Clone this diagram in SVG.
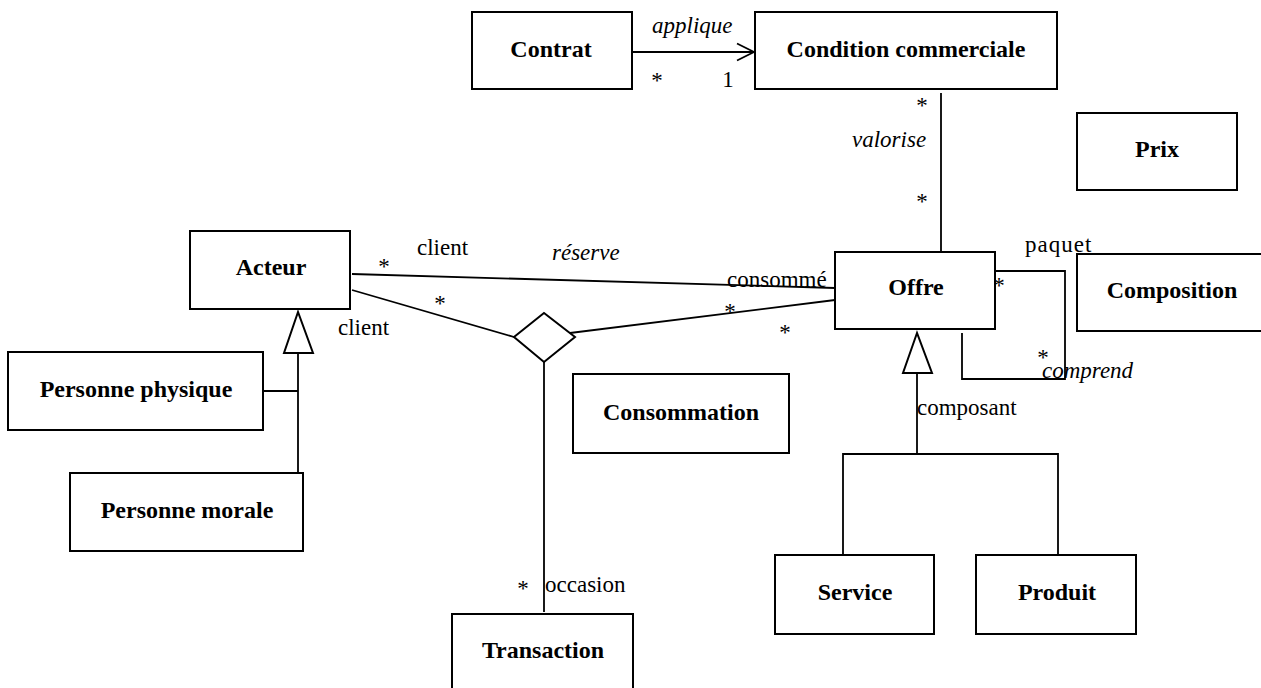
<svg xmlns="http://www.w3.org/2000/svg" width="1261" height="688" viewBox="0 0 1261 688">
<style>
.box{fill:#fff;stroke:#000;stroke-width:2}
.name{font-family:"Liberation Serif","Times New Roman",serif;font-weight:bold;font-size:24px;text-anchor:middle;fill:#000}
.lbl{font-family:"Liberation Serif","Times New Roman",serif;font-size:23px;fill:#000}
.it{font-style:italic}
.mid{text-anchor:middle}
.ln{fill:none;stroke:#000;stroke-width:1.8}
.tri{fill:#fff;stroke:#000;stroke-width:2}
</style>
<defs>
<marker id="open" viewBox="0 0 20 20" refX="18" refY="10" markerWidth="20" markerHeight="20" markerUnits="userSpaceOnUse" orient="auto">
<polyline points="1,1.5 18,10 1,18.5" fill="none" stroke="#000" stroke-width="1.8"/>
</marker>
</defs>
<rect width="1261" height="688" fill="#fff"/>
<g id="connectors">
<line class="ln" x1="632" y1="52" x2="754" y2="52" marker-end="url(#open)"/>
<line class="ln" x1="941" y1="93" x2="941" y2="252"/>
<line class="ln" x1="352" y1="274" x2="835" y2="288"/>
<line class="ln" x1="352" y1="290" x2="514" y2="337"/>
<line class="ln" x1="570" y1="333" x2="835" y2="300"/>
<polygon class="tri" points="514,337 544,313 575,337 544,362"/>
<line class="ln" x1="544" y1="362" x2="544" y2="612"/>
<polyline class="ln" points="995,271 1065,271 1065,379 962,379 962,333"/>
<polygon class="tri" points="917,333 903,373 932,373"/>
<polyline class="ln" points="917,373 917,454"/>
<polyline class="ln" points="843,555 843,454 1058,454 1058,555"/>
<polygon class="tri" points="298,312 284,353 313,353"/>
<line class="ln" x1="298" y1="353" x2="298" y2="473"/>
<line class="ln" x1="263" y1="391" x2="298" y2="391"/>
<text class="lbl it" x="652" y="33">applique</text>
<text class="lbl mid" x="657" y="88">*</text>
<text class="lbl mid" x="728" y="87">1</text>
<text class="lbl mid" x="922" y="113">*</text>
<text class="lbl it" x="852" y="147">valorise</text>
<text class="lbl mid" x="922" y="209">*</text>
<text class="lbl" x="417" y="255">client</text>
<text class="lbl it" x="552" y="260">réserve</text>
<text class="lbl mid" x="384" y="274">*</text>
<text class="lbl mid" x="440" y="311">*</text>
<text class="lbl" x="338" y="335">client</text>
<text class="lbl" x="727" y="287">consommé</text>
<text class="lbl mid" x="730" y="319">*</text>
<text class="lbl mid" x="785" y="340">*</text>
<text class="lbl" x="1025" y="252" letter-spacing="1">paquet</text>
<text class="lbl mid" x="999" y="293">*</text>
<text class="lbl mid" x="1043" y="365">*</text>
<text class="lbl it" x="1042" y="378">comprend</text>
<text class="lbl" x="917" y="415">composant</text>
<text class="lbl mid" x="523" y="596">*</text>
<text class="lbl" x="545" y="592">occasion</text>
</g>
<g id="contrat"><rect class="box" x="472" y="12" width="160" height="77"/><text class="name" x="551" y="57">Contrat</text></g>
<g id="condition-commerciale"><rect class="box" x="755" y="12" width="302" height="77"/><text class="name" x="906" y="57">Condition commerciale</text></g>
<g id="prix"><rect class="box" x="1077" y="113" width="160" height="77"/><text class="name" x="1157" y="157">Prix</text></g>
<g id="acteur"><rect class="box" x="190" y="231" width="160" height="78"/><text class="name" x="271" y="275">Acteur</text></g>
<g id="offre"><rect class="box" x="835" y="252" width="160" height="77"/><text class="name" x="916" y="295">Offre</text></g>
<g id="composition"><rect class="box" x="1077" y="254" width="192" height="77"/><text class="name" x="1172" y="298">Composition</text></g>
<g id="personne-physique"><rect class="box" x="8" y="352" width="255" height="78"/><text class="name" x="136" y="397">Personne physique</text></g>
<g id="consommation"><rect class="box" x="573" y="374" width="216" height="79"/><text class="name" x="681" y="420">Consommation</text></g>
<g id="personne-morale"><rect class="box" x="70" y="473" width="233" height="78"/><text class="name" x="187" y="518">Personne morale</text></g>
<g id="service"><rect class="box" x="775" y="555" width="159" height="79"/><text class="name" x="855" y="600">Service</text></g>
<g id="produit"><rect class="box" x="976" y="555" width="160" height="79"/><text class="name" x="1057" y="600">Produit</text></g>
<g id="transaction"><rect class="box" x="452" y="614" width="181" height="90"/><text class="name" x="543" y="658">Transaction</text></g>
</svg>
